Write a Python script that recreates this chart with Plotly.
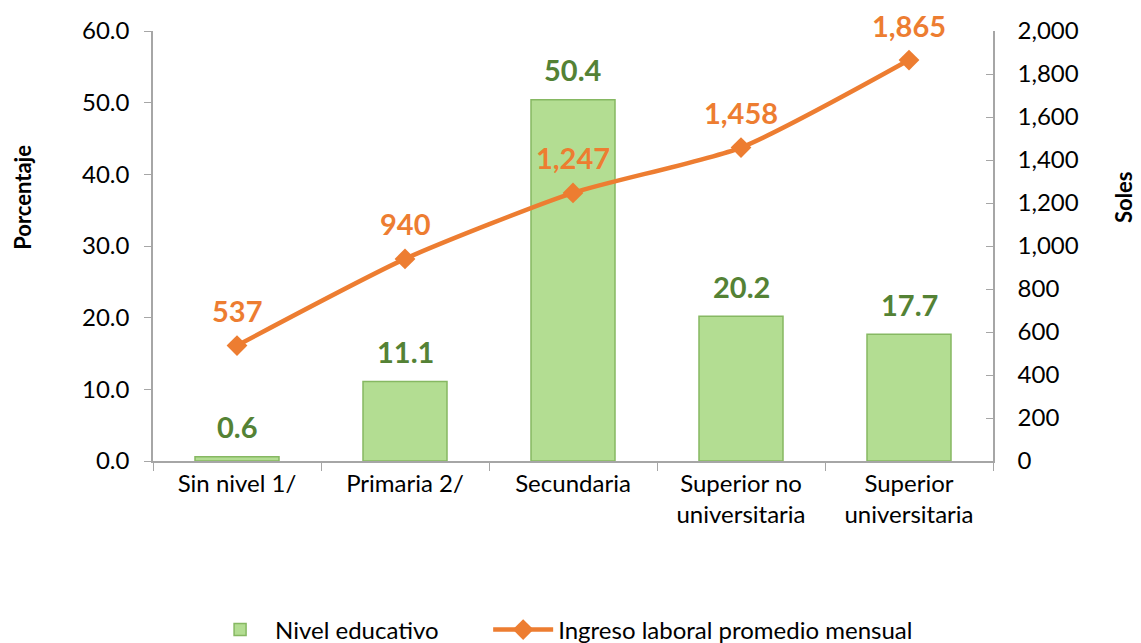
import plotly.graph_objects as go

categories = ["Sin nivel 1/", "Primaria 2/", "Secundaria", "Superior no<br>universitaria", "Superior<br>universitaria"]
nivel_educativo = [0.6, 11.1, 50.4, 20.2, 17.7]
nivel_labels = ["0.6", "11.1", "50.4", "20.2", "17.7"]
ingreso = [537, 940, 1247, 1458, 1865]
ingreso_labels = ["537", "940", "1,247", "1,458", "1,865"]
left_ticks = [0, 10, 20, 30, 40, 50, 60]
right_ticks = [0, 200, 400, 600, 800, 1000, 1200, 1400, 1600, 1800, 2000]

FONT = "Lato, 'Open Sans', sans-serif"
GREEN_TXT = "#548235"
ORANGE = "#ED7D31"
AXIS = "#A6A6A6"

fig = go.Figure()
fig.add_trace(go.Bar(
    x=categories, y=nivel_educativo, name="Nivel educativo",
    marker=dict(color="#B3DD92", line=dict(color="#86B862", width=1.5)),
    width=0.5, legend="legend",
))
fig.add_trace(go.Scatter(
    x=categories, y=ingreso, name="Ingreso laboral promedio mensual", yaxis="y2",
    mode="lines+markers",
    line=dict(color=ORANGE, width=4.5, shape="spline", smoothing=0.6),
    marker=dict(symbol="diamond", size=16, color=ORANGE),
    cliponaxis=False, legend="legend2",
))
for c, v, t in zip(categories, nivel_educativo, nivel_labels):
    fig.add_annotation(x=c, y=v, yref="y", text=f"<b>{t}</b>", showarrow=False,
                       yshift=30, font=dict(color=GREEN_TXT, size=29, family=FONT))
for c, v, t in zip(categories, ingreso, ingreso_labels):
    fig.add_annotation(x=c, y=v, yref="y2", text=f"<b>{t}</b>", showarrow=False,
                       yshift=35, font=dict(color=ORANGE, size=29, family=FONT))

# axis titles
fig.add_annotation(xref="paper", yref="paper", x=-0.155, y=0.614, text="<b>Porcentaje</b>",
                   textangle=-90, showarrow=False, font=dict(size=22, family=FONT),
                   xanchor="center", yanchor="middle")
fig.add_annotation(xref="paper", yref="paper", x=1.156, y=0.614, text="<b>Soles</b>",
                   textangle=-90, showarrow=False, font=dict(size=22, family=FONT),
                   xanchor="center", yanchor="middle")

fig.update_layout(
    width=1133, height=635,
    paper_bgcolor="white", plot_bgcolor="white",
    margin=dict(l=145, r=148, t=23, b=182, autoexpand=False),
    font=dict(family=FONT, size=24, color="#000000"),
    bargap=0.5,
    showlegend=True,
    legend=dict(orientation="h", x=0.062, xanchor="left", y=-0.393, yanchor="middle",
                font=dict(size=24, family=FONT), itemwidth=60),
    legend2=dict(orientation="h", x=0.399, xanchor="left", y=-0.393, yanchor="middle",
                 font=dict(size=24, family=FONT), itemwidth=60),
    xaxis=dict(showline=True, linecolor=AXIS, linewidth=1.5, ticks="outside",
               tickson="boundaries", ticklen=8, tickcolor=AXIS, showgrid=False,
               tickfont=dict(size=24), automargin=False),
    yaxis=dict(range=[0, 60], tickvals=left_ticks, tickformat=".1f", showline=True,
               linecolor=AXIS, linewidth=1.5, ticks="outside", ticklen=7, tickcolor=AXIS,
               showgrid=False, zeroline=False, automargin=False, ticklabelstandoff=10),
    yaxis2=dict(range=[0, 2000], tickvals=right_ticks, tickformat=",d", overlaying="y",
                side="right", showline=True, linecolor=AXIS, linewidth=1.5,
                ticks="inside", ticklen=7, tickcolor=AXIS, showgrid=False, zeroline=False,
                automargin=False, ticklabelstandoff=18),
)
fig.write_html("out.html")
